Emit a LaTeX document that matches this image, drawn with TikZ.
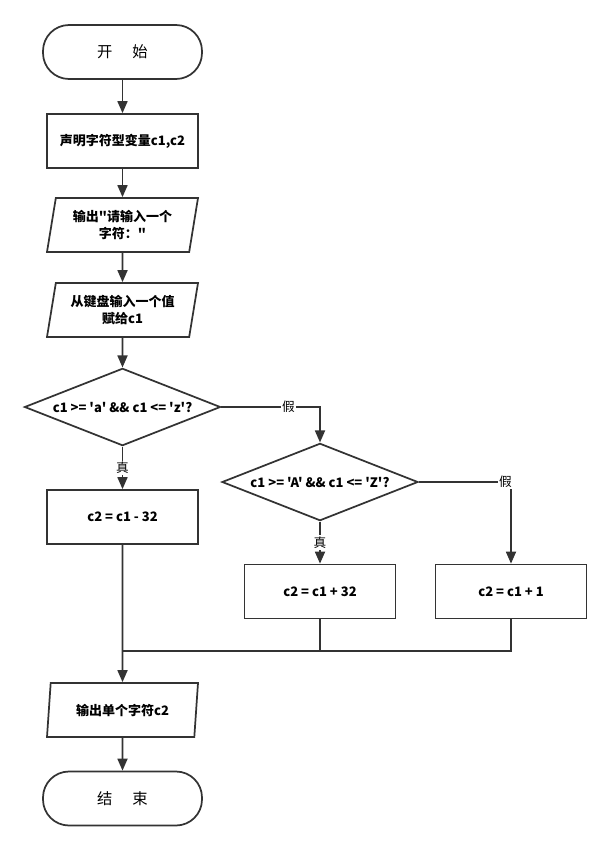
\documentclass[tikz,border=0pt]{standalone}
\usepackage{fontspec}
\setmainfont{Noto Sans CJK SC}[Ligatures=TeXOff]
\usepackage{tikz}
\usetikzlibrary{arrows.meta,shapes.geometric}

\definecolor{ink}{HTML}{333333}
\tikzset{
  line/.style={draw=ink, line width=1.3pt},
  arr/.style={line, -{Triangle[length=9pt,width=7.5pt]}},
  term/.style={line, rectangle, rounded corners=19.5pt, minimum width=119.25pt,
    minimum height=40.5pt, font=\fontsize{11.5}{14}\selectfont},
  proc/.style={line, rectangle, minimum width=113.25pt, minimum height=40.5pt,
    align=center, font=\fontsize{9.75}{13}\selectfont\bfseries},
  io/.style={line, trapezium, trapezium left angle=73.5, trapezium right angle=106.5,
    trapezium stretches body, minimum width=113.25pt, minimum height=40.5pt,
    inner sep=0pt, align=center, font=\fontsize{9.75}{13}\selectfont\bfseries},
  cond/.style={line, diamond, minimum width=147pt, minimum height=58pt, inner sep=0pt},
  condtext/.style={font=\fontsize{9.75}{13}\selectfont\bfseries},
  yesno/.style={fill=white, inner sep=1pt, font=\fontsize{9.5}{11}\selectfont}
}

\begin{document}
\begin{tikzpicture}[x=0.75pt,y=-0.75pt]
\useasboundingbox (0,0) rectangle (610,850);

\node[term] (start) at (122.5,52) {开\hspace{1.3em}始};
\node[proc] (decl) at (122.5,141) {声明字符型变量c1,c2};
\node[io] (out1) at (122.5,225) {输出"请输入一个\\字符："};
\node[io] (in1) at (122.5,310) {从键盘输入一个值\\赋给c1};
\node[cond] (d1) at (122.5,407) {};
\node[condtext] (d1txt) at (d1.center) {c1 >= 'a' \&\& c1 <= 'z'?};
\node[proc] (minus) at (122.5,517) {c2 = c1 - 32};
\node[cond] (d2) at (320,482) {};
\node[condtext] (d2txt) at (d2.center) {c1 >= 'A' \&\& c1 <= 'Z'?};
\node[proc] (plus32) at (320,591.5) {c2 = c1 + 32};
\node[proc] (plus1) at (511,591.5) {c2 = c1 + 1};
\coordinate (m) at (122.5,651);
\node[io] (out2) at (122.5,710) {输出单个字符c2};
\node[term] (stop) at (122.5,798.5) {结\hspace{1.3em}束};

\draw[arr] (start) -- (decl);
\draw[arr] (decl) -- (out1);
\draw[arr] (out1) -- (in1);
\draw[arr] (in1) -- (d1);
\draw[arr] (d1) -- node[yesno] {真} (minus);
\draw[arr] (d1.east) -| node[yesno,pos=0.34] {假} (d2.north);
\draw[arr] (d2) -- node[yesno] {真} (plus32);
\draw[arr] (d2.east) -| node[yesno,pos=0.47] {假} (plus1.north);
% branches join again
\draw[line] (plus32) -- (plus32 |- m);
\draw[line] (plus1) |- (m);
\draw[arr] (minus) -- (out2);
\draw[arr] (out2) -- (stop);
\end{tikzpicture}
\end{document}
